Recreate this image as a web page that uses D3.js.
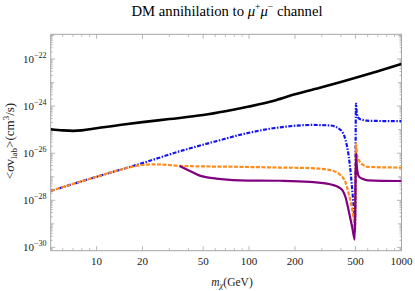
<!DOCTYPE html>
<html>
<head>
<meta charset="utf-8">
<script src="https://cdn.jsdelivr.net/npm/d3@7"></script>
<style>
  body { margin: 0; background: #fff; }
  svg text { font-family: "Liberation Serif", "Times New Roman", serif; }
</style>
</head>
<body>
<div id="chart"></div>
<script>
// masses in GeV, cross sections as log10(<sigma v> / cm^3 s^-1)
var blackMass = [5, 6, 7, 8, 10, 15, 20, 30, 50, 70, 100, 150, 200, 300, 400, 500, 700, 1000];
var blackLog = [-24.98, -25.03, -25.05, -25.03, -24.94, -24.78, -24.68, -24.55, -24.38, -24.22, -24.02, -23.75, -23.50, -23.20, -22.98, -22.80, -22.52, -22.21];

var blueMass = [5, 10, 20, 35, 60, 100, 160, 260, 340, 400, 430, 450, 475, 490, 495, 503, 510, 525, 560, 600, 700, 1000];
var blueLog = [-27.60, -27.00, -26.42, -25.92, -25.50, -25.13, -24.90, -24.80, -24.82, -25.02, -25.45, -26.10, -27.55, -28.70, -29.30, -23.89, -24.35, -24.52, -24.59, -24.62, -24.63, -24.64];

var orangeMass = [5, 10, 14, 17.5, 23.5, 30, 35, 50, 90, 160, 250, 340, 400, 430, 450, 475, 490, 495, 503, 510, 525, 560, 600, 1000];
var orangeLog = [-27.60, -27.00, -26.72, -26.56, -26.47, -26.50, -26.54, -26.56, -26.58, -26.61, -26.63, -26.72, -26.94, -27.25, -27.71, -28.40, -29.00, -29.30, -25.59, -26.05, -26.30, -26.50, -26.58, -26.61];

var purpleMass = [35, 40, 47, 61, 87, 160, 250, 340, 400, 430, 450, 475, 494, 503, 510, 525, 560, 600, 1000];
var purpleLog = [-26.54, -26.72, -26.94, -27.08, -27.15, -27.17, -27.22, -27.32, -27.50, -27.88, -28.43, -29.14, -29.67, -26.01, -26.60, -26.98, -27.10, -27.15, -27.18];

var xTickLabels = [10, 20, 50, 100, 200, 500, 1000];
var xMinorTicks = [6, 7, 8, 9, 30, 40, 60, 70, 80, 90, 300, 400, 600, 700, 800, 900];
var yLabelExps = [-30, -28, -26, -24, -22];

var width = 415, height = 291;
var padL = 50.7, padR = 401.5, padT = 34.3, padB = 250.7;

var svg = d3.select("#chart").append("svg")
    .attr("width", width)
    .attr("height", height);

var x = d3.scaleLog().domain([5, 1000]).range([padL, padR]);
var y = d3.scaleLog().domain([Math.pow(10, -30.14), Math.pow(10, -20.95)]).range([padB, padT]);

// frame
svg.append("rect")
    .attr("x", padL).attr("y", padT)
    .attr("width", padR - padL).attr("height", padB - padT)
    .attr("fill", "none").attr("stroke", "#a6a6a6").attr("stroke-width", 1);

var ticks = svg.append("g").attr("stroke", "#a6a6a6").attr("stroke-width", 0.8);

// x ticks (bottom and top, pointing in)
xTickLabels.forEach(function (m) {
    ticks.append("line").attr("x1", x(m)).attr("x2", x(m)).attr("y1", padB).attr("y2", padB - 4.5);
    ticks.append("line").attr("x1", x(m)).attr("x2", x(m)).attr("y1", padT).attr("y2", padT + 4.5);
});
xMinorTicks.forEach(function (m) {
    ticks.append("line").attr("x1", x(m)).attr("x2", x(m)).attr("y1", padB).attr("y2", padB - 2.5);
    ticks.append("line").attr("x1", x(m)).attr("x2", x(m)).attr("y1", padT).attr("y2", padT + 2.5);
});

// y ticks, major every decade, minor 2..9
for (var e = -31; e <= -21; e++) {
    for (var k = 1; k <= 9; k++) {
        var v = k * Math.pow(10, e);
        var yy = y(v);
        if (yy < padT - 0.1 || yy > padB + 0.1) continue;
        var len = k === 1 ? (e % 2 === 0 ? 4.5 : 3.5) : 2;
        ticks.append("line").attr("x1", padL).attr("x2", padL + len).attr("y1", yy).attr("y2", yy);
        ticks.append("line").attr("x1", padR).attr("x2", padR - len).attr("y1", yy).attr("y2", yy);
    }
}

// x tick labels
svg.append("g").selectAll("text")
    .data(xTickLabels)
    .enter().append("text")
    .attr("x", d => x(d))
    .attr("y", 265)
    .attr("text-anchor", "middle")
    .attr("font-size", "11px")
    .attr("fill", "#222")
    .text(d => d);

// y tick labels 10^n
var yl = svg.append("g").selectAll("text")
    .data(yLabelExps)
    .enter().append("text")
    .attr("x", 46.5)
    .attr("y", d => y(Math.pow(10, d)) + 3.5)
    .attr("text-anchor", "end")
    .attr("font-size", "11px")
    .attr("fill", "#222");
yl.append("tspan").text("10");
yl.append("tspan").attr("dy", -5).attr("font-size", "8px").text(d => "\u2212" + (-d));

// title
var title = svg.append("text")
    .attr("x", 227).attr("y", 15.5)
    .attr("text-anchor", "middle")
    .attr("font-size", "14.7px")
    .attr("fill", "#000");
title.append("tspan").text("DM annihilation to ");
title.append("tspan").attr("font-style", "italic").text("\u03bc");
title.append("tspan").attr("dy", -5.5).attr("font-size", "9.5px").text("+");
title.append("tspan").attr("dy", 5.5).attr("font-style", "italic").text("\u03bc");
title.append("tspan").attr("dy", -5.5).attr("font-size", "9.5px").text("\u2212");
title.append("tspan").attr("dy", 5.5).text(" channel");

// x axis label
var xl = svg.append("text")
    .attr("x", 232).attr("y", 285.5)
    .attr("text-anchor", "middle")
    .attr("font-size", "11.5px")
    .attr("fill", "#222");
xl.append("tspan").attr("font-style", "italic").text("m");
xl.append("tspan").attr("dy", 2.5).attr("font-size", "8.5px").attr("font-style", "italic").text("\u03c7");
xl.append("tspan").attr("dy", -2.5).text("(GeV)");

// y axis label
var ylab = svg.append("text")
    .attr("transform", "translate(14,141) rotate(-90)")
    .attr("text-anchor", "middle")
    .attr("font-size", "13px")
    .attr("fill", "#222");
ylab.append("tspan").text("<");
ylab.append("tspan").attr("font-style", "italic").text("\u03c3");
ylab.append("tspan").text("v");
ylab.append("tspan").attr("dy", 2.5).attr("font-size", "9px").text("lab");
ylab.append("tspan").attr("dy", -2.5).text(">(cm");
ylab.append("tspan").attr("dy", -5).attr("font-size", "9px").text("3");
ylab.append("tspan").attr("dy", 5).text("/s)");

// curves
var line = d3.line()
    .x(d => x(d[0]))
    .y(d => y(Math.pow(10, d[1])))
    .curve(d3.curveMonotoneX);

var plot = svg.append("g");
plot.append("clipPath").attr("id", "clip")
    .append("rect").attr("x", padL).attr("y", padT).attr("width", padR - padL).attr("height", padB - padT);

function series(mass, logs, color, w, dash) {
    plot.append("path")
        .datum(d3.zip(mass, logs))
        .attr("d", line)
        .attr("clip-path", "url(#clip)")
        .attr("fill", "none")
        .attr("stroke", color)
        .attr("stroke-width", w)
        .attr("stroke-dasharray", dash)
        .attr("stroke-linejoin", "round");
}

series(blackMass, blackLog, "#000000", 2.6, null);
series(blueMass, blueLog, "#1414f0", 2.2, "4,1.5,1.5,1.5");
series(orangeMass, orangeLog, "#ff8c1a", 2.2, "4,1.5");
series(purpleMass, purpleLog, "#800080", 2.2, null);
</script>
</body>
</html>
